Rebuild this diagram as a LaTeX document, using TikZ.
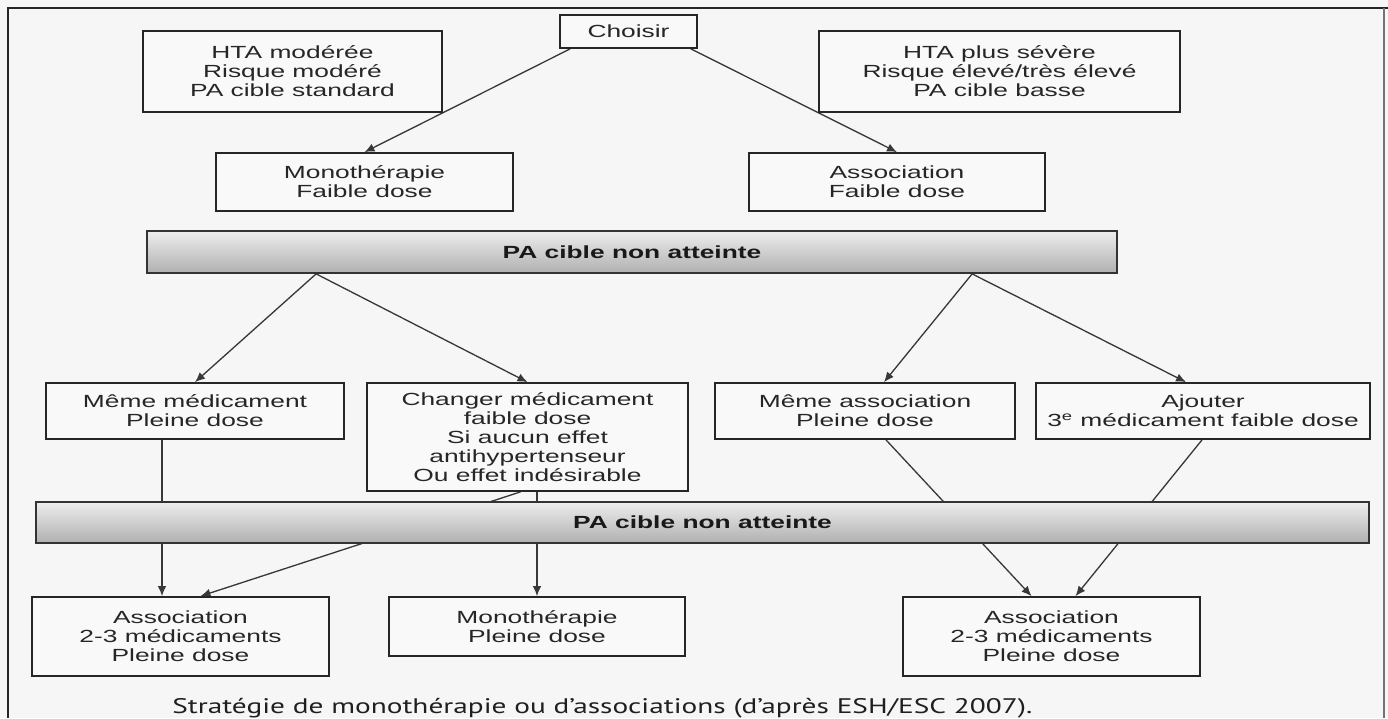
\documentclass[tikz,border=0pt]{standalone}
\usepackage{fontspec}
\setmainfont{Liberation Sans}[FakeStretch=1.5]
\newfontfamily\capfont{PT Sans}[FakeStretch=1.39]
\usetikzlibrary{arrows.meta,calc}
\pgfdeclarelayer{back}
\pgfdeclarelayer{lines}
\pgfsetlayers{back,lines,main}
\begin{document}
\begin{tikzpicture}[x=0.02cm,y=-0.02cm,
  every node/.style={font=\fontsize{10}{10.8}\selectfont, text=black!85},
  corners/.style n args={4}{minimum width={(#3-#1)*0.02cm}, minimum height={(#4-#2)*0.02cm}, at={({(#1+#3)/2},{(#2+#4)/2})}},
  box/.style={draw=black!85, line width=1pt, fill=gray!5, inner sep=0pt, align=center},
  bar/.style={draw=black!80, line width=1pt, top color=gray!14, bottom color=gray!62, inner sep=0pt, font=\bfseries\fontsize{10}{12}\selectfont, text=black!90},
  arr/.style={draw=black!78, line width=0.75pt, -{Latex[length=2mm,width=1.7mm]}},
  frame/.style={draw=black!85, line width=1pt}]
\useasboundingbox (0,0) rectangle (1388,718);
\begin{pgfonlayer}{back}
\fill[gray!7] (0,0) rectangle (1388,718);
\end{pgfonlayer}
\draw[frame] (8,718) -- (8,8) -- (1388,8);
\draw[draw=black!55, line width=0.6pt] (1384,8) -- (1384,718);

% boxes
\node[box, corners={143}{31}{442}{112}] (hta1) {HTA modérée\\Risque modéré\\PA cible standard};
\node[box, corners={560}{15}{697}{48}] (cho) {Choisir};
\node[box, corners={819}{31}{1180}{112}] (hta2) {HTA plus sévère\\Risque élevé/très élevé\\PA cible basse};
\node[box, corners={216}{153}{513}{211}] (mono1) {Monothérapie\\Faible dose};
\node[box, corners={749}{153}{1045}{211}] (asso1) {Association\\Faible dose};
\node[bar, corners={147}{231}{1117}{273}] (bar1) {PA cible non atteinte};
\node[box, corners={46}{383}{344}{439}] (meme) {Même médicament\\Pleine dose};
\node[box, corners={367}{383}{688}{491}] (chg) {Changer médicament\\faible dose\\Si aucun effet\\antihypertenseur\\Ou effet indésirable};
\node[box, corners={715}{383}{1015}{439}] (memea) {Même association\\Pleine dose};
\node[box, corners={1036}{383}{1370}{439}] (ajo) {Ajouter\\3\textsuperscript{e} médicament faible dose};
\node[bar, corners={36}{502}{1369}{543}] (bar2) {PA cible non atteinte};
\node[box, corners={32}{597}{329}{676}] (as2) {Association\\2-3 médicaments\\Pleine dose};
\node[box, corners={389}{597}{685}{656}] (mono2) {Monothérapie\\Pleine dose};
\node[box, corners={903}{597}{1200}{676}] (as3) {Association\\2-3 médicaments\\Pleine dose};
\node[font=\capfont\fontsize{12}{14}\selectfont, text=black!88, anchor=base west, inner sep=0pt] (cap) at (172,713) {Stratégie de monothérapie ou d’associations (d’après ESH/ESC 2007).};

% connectors
\begin{pgfonlayer}{lines}
\draw[arr] ($(cho.south west)+(11,0)$) -- (mono1.north);
\draw[arr] ($(cho.south east)+(-7,0)$) -- (asso1.north);
\draw[arr] ($(bar1.south west)+(170,0)$) coordinate (b1l) -- (meme.north);
\draw[arr] (b1l) -- (chg.north);
\draw[arr] ($(bar1.south west)+(826,0)$) coordinate (b1r) -- ($(memea.north)+(19,0)$);
\draw[arr] (b1r) -- ($(ajo.north)+(-17,0)$);
\draw[arr] ($(meme.south)+(-33,0)$) coordinate (m1) -- (m1 |- as2.north);
\draw[arr] (mono2.north |- chg.south) -- (mono2.north);
\draw[arr] ($(chg.south)+(-7,0)$) -- ($(as2.north)+(20,0)$);
\draw[arr] ($(memea.south)+(21,0)$) -- ($(as3.north)+(-20,0)$);
\draw[arr] ($(ajo.south)+(-1,0)$) -- ($(as3.north)+(24,0)$);
\end{pgfonlayer}
\end{tikzpicture}
\end{document}
